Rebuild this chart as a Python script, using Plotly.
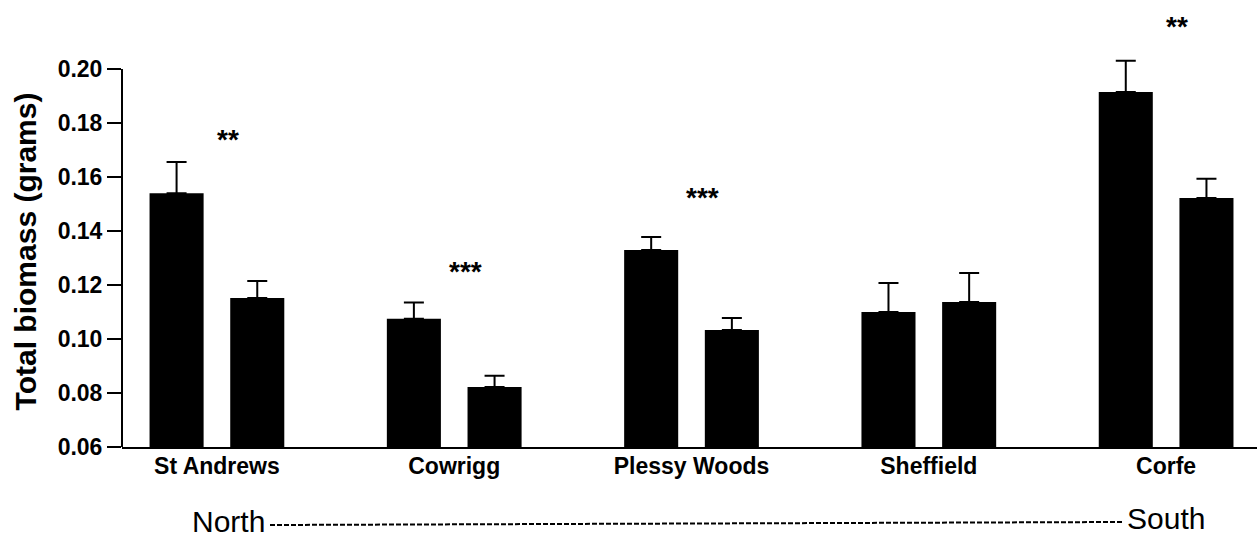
import plotly.graph_objects as go

sites = ["St Andrews", "Cowrigg", "Plessy Woods", "Sheffield", "Corfe"]
biomass_a = [0.154, 0.1075, 0.133, 0.110, 0.1915]
error_a = [0.0115, 0.006, 0.0048, 0.0107, 0.0115]
biomass_b = [0.1152, 0.0822, 0.1033, 0.1137, 0.1522]
error_b = [0.0063, 0.0042, 0.0045, 0.0107, 0.0071]
signif = ["**", "***", "***", "", "**"]
signif_y = [0.1756, 0.1267, 0.1544, None, 0.2174]
yticks = [0.06, 0.08, 0.10, 0.12, 0.14, 0.16, 0.18, 0.20]
y_min, y_max = 0.06, 0.2048
axis_top = 0.20

FONT = "Liberation Sans, Arial, sans-serif"

# plot-area geometry in pixels (used only for placing the paper-referenced decorations)
L, R, T, B, W, H = 122, 0, 56, 93, 1257, 540
PW, PH = W - L - R, H - T - B


def px_x(px):
    return (px - L) / PW


def px_y(py):
    return (H - B - py) / PH


fig = go.Figure()
for vals, errs in ((biomass_a, error_a), (biomass_b, error_b)):
    fig.add_trace(go.Bar(
        x=sites, y=vals,
        marker=dict(color="black", line=dict(width=0)),
        error_y=dict(type="data", array=errs, arrayminus=[0] * len(errs),
                     symmetric=False, color="black", thickness=2, width=10),
        showlegend=False, cliponaxis=False,
    ))

for i, (s, yv) in enumerate(zip(signif, signif_y)):
    if s:
        fig.add_annotation(x=i, y=(yv - y_min) / (y_max - y_min), text=s, showarrow=False,
                           xshift=11, yshift=-5, yanchor="middle", xanchor="center",
                           font=dict(family=FONT, size=28, color="black", weight="bold"),
                           xref="x", yref="paper")

fig.add_annotation(x=px_x(228), y=px_y(521), xref="paper", yref="paper", text="North",
                   xanchor="center", yanchor="middle",
                   showarrow=False, font=dict(family=FONT, size=30, color="black"))
fig.add_annotation(x=px_x(1166), y=px_y(518), xref="paper", yref="paper", text="South",
                   xanchor="center", yanchor="middle",
                   showarrow=False, font=dict(family=FONT, size=30, color="black"))

fig.update_layout(
    width=W, height=H,
    margin=dict(l=L, r=R, t=T, b=B),
    plot_bgcolor="white", paper_bgcolor="white",
    barmode="group", bargap=0.32, bargroupgap=0.33,
    font=dict(family=FONT, color="black"),
    xaxis=dict(
        range=[-0.40, 4.383], showline=True, linecolor="black", linewidth=2,
        ticks="", showgrid=False, zeroline=False,
        tickfont=dict(family=FONT, size=23, color="black", weight="bold"),
        ticklabelstandoff=-3,
    ),
    yaxis=dict(
        range=[y_min, y_max], tickvals=yticks, tickformat=".2f",
        showline=False,
        ticks="outside", ticklen=14, tickwidth=2, tickcolor="black",
        showgrid=False, zeroline=False,
        tickfont=dict(family=FONT, size=23, color="black", weight="bold"),
        title=dict(text="Total biomass (grams)", standoff=12,
                   font=dict(family=FONT, size=30, color="black", weight="bold")),
        automargin=False,
    ),
)

# y-axis spine ending at the top tick (0.20)
fig.add_shape(type="line", xref="paper", yref="y", x0=0, x1=0, y0=y_min, y1=axis_top,
              line=dict(color="black", width=2))

# dashed North-South line
fig.add_shape(type="line", xref="paper", yref="paper",
              x0=px_x(270), x1=px_x(1122), y0=px_y(525), y1=px_y(522),
              line=dict(color="black", width=2, dash="5px,2px"))

fig.write_html("out.html")
